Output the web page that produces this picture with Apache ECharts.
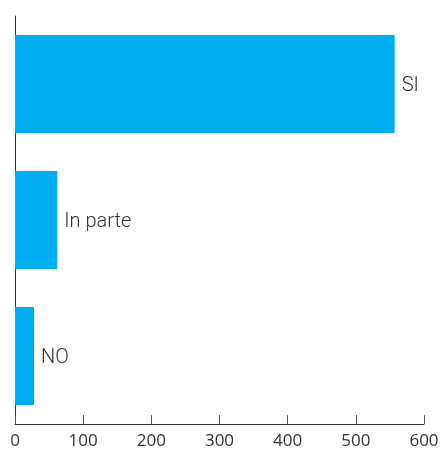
<!DOCTYPE html>
<html><head><meta charset="utf-8">
<script src="https://cdn.jsdelivr.net/npm/echarts@6/dist/echarts.min.js"></script>
<style>html,body{margin:0;padding:0;background:#fff}#c{width:446px;height:450px}</style>
</head><body><div id="c"></div>
<script>
const categories = ['SI', 'In parte', 'NO'];
const values = [557, 62, 28];
const xTicks = [0, 100, 200, 300, 400, 500, 600];

const chart = echarts.init(document.getElementById('c'), null, {renderer: 'canvas'});
chart.setOption({
  animation: false,
  grid: {left: 15, right: 22, top: 16, bottom: 24, containLabel: false},
  xAxis: {
    type: 'value', min: xTicks[0], max: xTicks[xTicks.length - 1], interval: 100,
    axisLine: {show: true, lineStyle: {color: '#333', width: 1}},
    axisTick: {show: true, inside: true, length: 9, lineStyle: {color: '#555'}},
    splitLine: {show: false},
    axisLabel: {fontFamily: 'Open Sans', fontSize: 17, color: '#333', margin: 9}
  },
  yAxis: {
    type: 'category', data: categories, inverse: true,
    axisLine: {show: true, lineStyle: {color: '#333', width: 1}},
    axisTick: {show: false}, axisLabel: {show: false}
  },
  series: [{
    type: 'bar', data: values, barCategoryGap: '28%',
    itemStyle: {color: '#00AEEF'},
    label: {
      show: true, position: 'right', distance: 7, offset: [0, 2],
      formatter: p => categories[p.dataIndex],
      fontFamily: 'Roboto', fontWeight: 300, fontSize: 20, color: '#333'
    }
  }]
});
</script></body></html>
